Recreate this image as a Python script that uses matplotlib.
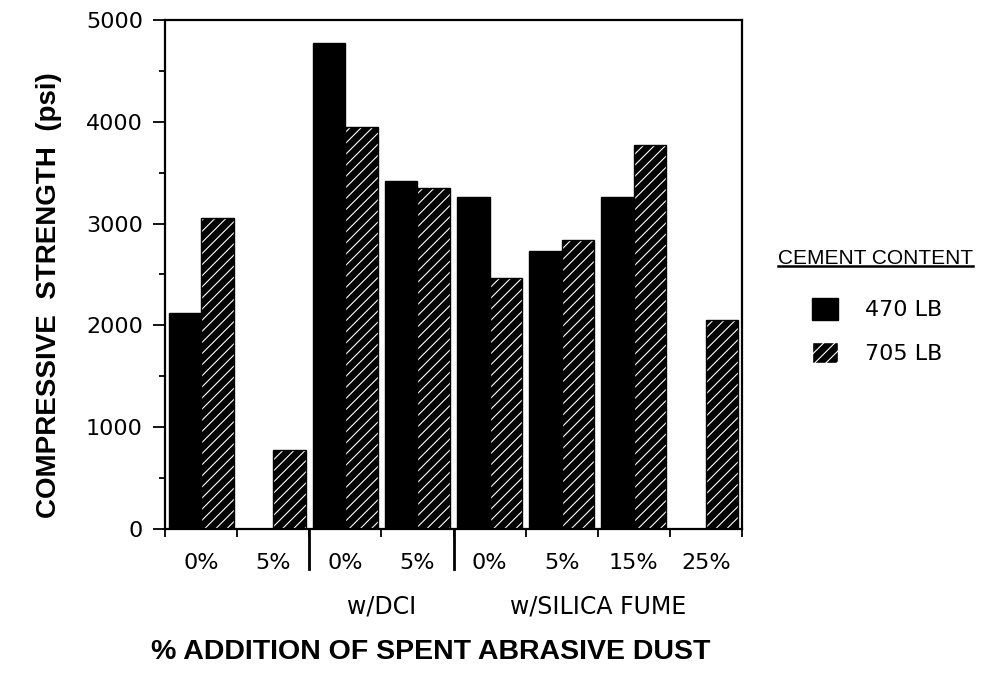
import matplotlib
matplotlib.use("Agg")
import matplotlib.pyplot as plt
from matplotlib.patches import Patch
from matplotlib.lines import Line2D

plt.rcParams['font.family'] = ['DejaVu Sans']
plt.rcParams['hatch.linewidth'] = 0.8

# data
categories = ["0%", "5%", "0%", "5%", "0%", "5%", "15%", "25%"]
lb470 = [2120, 0, 4770, 3420, 3260, 2730, 3260, 0]
lb705 = [3050, 780, 3950, 3350, 2470, 2840, 3770, 2050]
groups = [("", 2), ("w/DCI", 2), ("w/SILICA FUME", 4)]
series_names = ["470 LB", "705 LB"]

fig = plt.figure(figsize=(9.96, 6.88), dpi=100)
ax = fig.add_axes([0.1657, 0.2311, 0.5793, 0.7399])

x = list(range(len(categories)))
w = 0.45
ax.bar([i - w / 2 for i in x], lb470, width=w, color='black', edgecolor='black', linewidth=1)
# hatched bars: black fill, white hatch, then black outline on top
ax.bar([i + w / 2 for i in x], lb705, width=w, color='black', edgecolor='white',
       hatch='///', linewidth=0)
ax.bar([i + w / 2 for i in x], lb705, width=w, fill=False, edgecolor='black', linewidth=1)

ax.set_xlim(-0.5, len(categories) - 0.5)
ax.set_ylim(0, 5000)
ax.set_yticks(range(0, 5001, 1000))
ax.set_yticks(range(500, 5000, 1000), minor=True)
ax.tick_params(axis='y', which='major', length=9, width=1.3, labelsize=16, pad=7)
ax.tick_params(axis='y', which='minor', length=4, width=1.3)

# x: tick marks at category boundaries, labels at category centres
ax.set_xticks([i - 0.5 for i in range(len(categories) + 1)])
ax.set_xticklabels([])
ax.set_xticks(x, minor=True)
ax.set_xticklabels(categories, minor=True)
ax.tick_params(axis='x', which='major', length=6, width=1.3)
ax.tick_params(axis='x', which='minor', length=0, labelsize=16, pad=17)

for s in ax.spines.values():
    s.set_linewidth(1.6)

# group separators and group labels
start = 0
for name, n in groups:
    if start > 0:
        ax.axvline(start - 0.5, ymin=-0.078, ymax=0, color='black', lw=2, clip_on=False)
    if name:
        ax.text(start + (n - 1) / 2, -0.153, name, transform=ax.get_xaxis_transform(),
                ha='center', va='center', fontsize=17)
    start += n

ax.set_ylabel("COMPRESSIVE  STRENGTH  (psi)", fontsize=20, fontweight='bold',
              family='Liberation Sans')
ax.yaxis.set_label_coords(-0.178, 0.46)
fig.text(431 / 996, 1 - 652 / 688, "% ADDITION OF SPENT ABRASIVE DUST",
         ha='center', va='center', fontsize=20.5, fontweight='bold', family='Liberation Sans')

# legend: title drawn separately so it can be underlined and sit left of the keys
title = fig.text(778 / 996, 1 - 258 / 688, "CEMENT CONTENT", ha='left', va='center',
                 fontsize=15, family='Liberation Sans')
handles = [Patch(facecolor='black', edgecolor='black'),
           Patch(facecolor='black', edgecolor='white', hatch='///')]
leg = fig.legend(handles, series_names, loc='upper left', bbox_to_anchor=(812 / 996, 1 - 298 / 688),
                 frameon=False, fontsize=16, borderaxespad=0, borderpad=0,
                 handlelength=1.17, handleheight=1.13, handletextpad=1.2, labelspacing=0.95)
for h in leg.legend_handles:
    h.set_linewidth(1)

fig.canvas.draw()
bb = title.get_window_extent().transformed(fig.transFigure.inverted())
fig.add_artist(Line2D([bb.x0, bb.x1], [bb.y0 + 0.002, bb.y0 + 0.002], color='black', lw=1.8))

fig.savefig("out.png", dpi=100)
